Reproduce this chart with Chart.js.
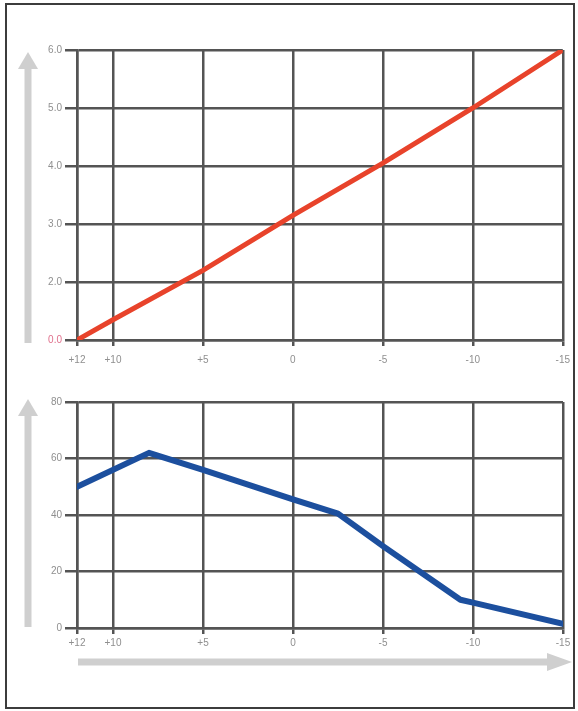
<!DOCTYPE html>
<html>
<head>
<meta charset="utf-8">
<script src="https://cdn.jsdelivr.net/npm/chart.js@4"></script>
<style>
  html, body { margin: 0; padding: 0; background: #fff; }
  #wrap { position: relative; width: 578px; height: 711px; overflow: hidden; }
  #frame { position: absolute; left: 5px; top: 3px; width: 566px; height: 702px; border: 2px solid #3c3c3c; }
  canvas { position: absolute; left: 0; }
  #c1 { top: 0; }
  #c2 { top: 370px; }
</style>
</head>
<body>
<div id="wrap">
  <div id="frame"></div>
  <canvas id="c1" width="578" height="370"></canvas>
  <canvas id="c2" width="578" height="341"></canvas>
</div>
<script>
// ---- data ----
const xTickValues = [12, 10, 5, 0, -5, -10, -15];
const xTickLabels = ['+12', '+10', '+5', '0', '-5', '-10', '-15'];

const topYTickValues = [1, 2, 3, 4, 5, 6];
const topYTickLabels = ['0.0', '2.0', '3.0', '4.0', '5.0', '6.0'];
const redX = [12, 10, 5, 0, -5, -10, -15];
const redY = [1.0, 1.35, 2.2, 3.15, 4.05, 5.0, 6.0];

const bottomYTickValues = [0, 20, 40, 60, 80];
const bottomYTickLabels = ['0', '20', '40', '60', '80'];
const blueX = [12, 8, 5, 0, -2.5, -5, -9.3, -10, -15];
const blueY = [50, 62, 56, 45.5, 40.5, 29, 10, 9, 1.5];

// ---- helpers ----
const GRID = '#545454';
const LABEL = '#8f8f8f';
const FONT = { family: 'Liberation Sans, Arial, sans-serif', size: 10 };

function arrowPlugin(arrows) {
  return {
    id: 'arrows',
    beforeDraw(chart) {
      const ctx = chart.ctx;
      ctx.save();
      ctx.fillStyle = '#cfcfcf';
      for (const a of arrows) {
        if (a.dir === 'up') {
          ctx.fillRect(a.x - 3.5, a.base, 7, a.end - a.base);
          ctx.beginPath();
          ctx.moveTo(a.x, a.tip);
          ctx.lineTo(a.x - a.hw, a.base + 1);
          ctx.lineTo(a.x + a.hw, a.base + 1);
          ctx.closePath();
          ctx.fill();
        } else {
          ctx.fillRect(a.start, a.y - 3.5, a.base - a.start, 7);
          ctx.beginPath();
          ctx.moveTo(a.tip, a.y);
          ctx.lineTo(a.base - 1, a.y - a.hw);
          ctx.lineTo(a.base - 1, a.y + a.hw);
          ctx.closePath();
          ctx.fill();
        }
      }
      ctx.restore();
    }
  };
}

function xScale(pad) {
  return {
    type: 'linear',
    reverse: true,
    min: -15,
    max: 12,
    afterBuildTicks: s => { s.ticks = xTickValues.map(v => ({ value: v })); },
    afterFit: s => { s.height = 30; },
    grid: { color: GRID, lineWidth: 2.5, tickLength: 6, drawTicks: true, tickColor: GRID },
    border: { color: GRID, width: 2.5 },
    ticks: {
      autoSkip: false, maxRotation: 0, padding: pad, color: LABEL, font: FONT,
      callback: v => { const i = xTickValues.indexOf(v); return i >= 0 ? xTickLabels[i] : ''; }
    }
  };
}

function yScale(min, max, vals, labels, colorFn) {
  return {
    type: 'linear',
    min: min, max: max,
    afterBuildTicks: s => { s.ticks = vals.map(v => ({ value: v })); },
    afterFit: s => { s.width = 77; },
    grid: { color: GRID, lineWidth: 2.5, tickLength: 12, tickColor: GRID },
    border: { color: GRID, width: 2.5 },
    ticks: {
      padding: 3, color: colorFn || LABEL, font: FONT,
      callback: v => { const i = vals.indexOf(v); return i >= 0 ? labels[i] : ''; }
    }
  };
}

// ---- top chart ----
new Chart(document.getElementById('c1'), {
  type: 'line',
  data: {
    datasets: [{
      data: redX.map((x, i) => ({ x: x, y: redY[i] })),
      borderColor: '#e8432b',
      borderWidth: 5,
      pointRadius: 0,
      tension: 0,
      borderCapStyle: 'round'
    }]
  },
  options: {
    responsive: false,
    animation: false,
    layout: { padding: { left: 0, right: 15, top: 50, bottom: 0 } },
    plugins: { legend: { display: false }, tooltip: { enabled: false } },
    scales: {
      x: xScale(8),
      y: yScale(1, 6, topYTickValues, topYTickLabels,
        ctx => (ctx.tick && ctx.tick.value === 1) ? '#e0708c' : LABEL)
    }
  },
  plugins: [arrowPlugin([{ dir: 'up', x: 28, tip: 52, base: 68, end: 343, hw: 10 }])]
});

// ---- bottom chart ----
new Chart(document.getElementById('c2'), {
  type: 'line',
  data: {
    datasets: [{
      data: blueX.map((x, i) => ({ x: x, y: blueY[i] })),
      borderColor: '#1c4f9e',
      borderWidth: 6,
      pointRadius: 0,
      tension: 0,
      borderJoinStyle: 'round',
      borderCapStyle: 'round'
    }]
  },
  options: {
    responsive: false,
    animation: false,
    layout: { padding: { left: 0, right: 15, top: 32, bottom: 53 } },
    plugins: { legend: { display: false }, tooltip: { enabled: false } },
    scales: {
      x: xScale(3),
      y: yScale(0, 80, bottomYTickValues, bottomYTickLabels)
    }
  },
  plugins: [arrowPlugin([
    { dir: 'up', x: 28, tip: 29, base: 45, end: 257, hw: 10 },
    { dir: 'right', y: 292, start: 78, base: 548, tip: 572, hw: 9 }
  ])]
});
</script>
</body>
</html>
